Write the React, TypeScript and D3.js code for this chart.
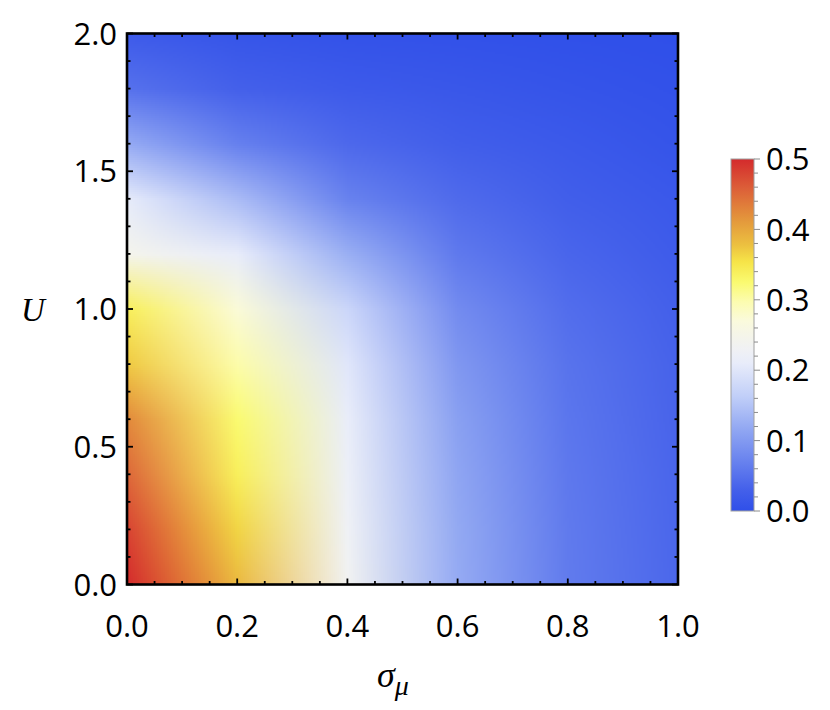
import React, { useEffect, useRef } from "react";
import * as d3 from "d3";

// ---- data ----
const sigmaValues = [0, 0.2, 0.4, 0.6, 0.8, 1.0];
const uValues = [0, 0.2, 0.4, 0.6, 0.8, 1.0, 1.2, 1.4, 1.6, 1.8, 2.0];
// rows: U = 0 .. 2 ; columns: sigma = 0, 0.2, ..., 1
const row00 = [0.5, 0.385, 0.235, 0.12, 0.062, 0.038];
const row02 = [0.48, 0.365, 0.228, 0.118, 0.061, 0.037];
const row04 = [0.452, 0.34, 0.22, 0.114, 0.059, 0.036];
const row06 = [0.425, 0.325, 0.212, 0.107, 0.056, 0.034];
const row08 = [0.372, 0.3, 0.2, 0.097, 0.052, 0.032];
const row10 = [0.34, 0.273, 0.175, 0.082, 0.046, 0.029];
const row12 = [0.245, 0.21, 0.125, 0.06, 0.036, 0.022];
const row14 = [0.208, 0.14, 0.07, 0.042, 0.026, 0.015];
const row16 = [0.12, 0.068, 0.04, 0.026, 0.017, 0.009];
const row18 = [0.05, 0.03, 0.02, 0.014, 0.009, 0.004];
const row20 = [0.02, 0.01, 0.006, 0.004, 0.002, 0.0];
const zRows = [row00, row02, row04, row06, row08, row10, row12, row14, row16, row18, row20];

const xTickLabels = ["0.0", "0.2", "0.4", "0.6", "0.8", "1.0"];
const yTickLabels = ["0.0", "0.5", "1.0", "1.5", "2.0"];
const barTickLabels = ["0.0", "0.1", "0.2", "0.3", "0.4", "0.5"];

// colour map (TemperatureMap-like), value -> colour
const colorStopValues = [0, 0.03, 0.068, 0.115, 0.162, 0.21, 0.23, 0.255, 0.27, 0.297, 0.325, 0.354, 0.378, 0.411, 0.459, 0.5];
const colorStopColors = ["#2f4fe9", "#4460ea", "#6680ee", "#90a6f2", "#c0cef8", "#e8ecfa", "#f0f1f4", "#f6f6e6", "#fafadc", "#fcfcb0", "#fafa70", "#f6e448", "#ecc040", "#e49a3c", "#dc5e38", "#d42a2c"];

const W = 830;
const H = 710;
const PX0 = 127, PX1 = 678, PY0 = 584.5, PY1 = 33.5;
const BX0 = 731, BX1 = 754, BY0 = 511, BY1 = 159;

export default function App() {
  const ref = useRef<SVGGElement>(null);

  const x = d3.scaleLinear().domain([0, 1]).range([PX0, PX1]);
  const y = d3.scaleLinear().domain([0, 2]).range([PY0, PY1]);
  const cbar = d3.scaleLinear().domain([0, 0.5]).range([BY0, BY1]);
  const color = d3.scaleLinear<string>().domain(colorStopValues).range(colorStopColors).interpolate(d3.interpolateRgb).clamp(true);

  useEffect(() => {
    const g = d3.select(ref.current);
    g.selectAll("*").remove();
    // colours at the sample nodes, blended linearly between nodes
    const nodeCols = zRows.map((row) => row.map((v) => d3.rgb(color(v))));
    const fxScale = d3.scaleLinear().domain(sigmaValues).range(d3.range(sigmaValues.length)).clamp(true);
    const fyScale = d3.scaleLinear().domain(uValues).range(d3.range(uValues.length)).clamp(true);
    const nx = sigmaValues.length, ny = uValues.length;
    const step = 2;
    const cells: { px: number; py: number; c: string }[] = [];
    for (let py = PY1; py < PY0; py += step) {
      for (let px = PX0; px < PX1; px += step) {
        const fx = fxScale(x.invert(Math.min(px + step / 2, PX1)));
        const fy = fyScale(y.invert(Math.min(py + step / 2, PY0)));
        const ix = Math.min(nx - 2, Math.floor(fx));
        const iy = Math.min(ny - 2, Math.floor(fy));
        const tx = fx - ix, ty = fy - iy;
        const c00 = nodeCols[iy][ix], c10 = nodeCols[iy][ix + 1];
        const c01 = nodeCols[iy + 1][ix], c11 = nodeCols[iy + 1][ix + 1];
        const mix = (k: "r" | "g" | "b") =>
          (c00[k] * (1 - tx) + c10[k] * tx) * (1 - ty) + (c01[k] * (1 - tx) + c11[k] * tx) * ty;
        cells.push({ px, py, c: d3.rgb(mix("r"), mix("g"), mix("b")).formatHex() });
      }
    }
    g.selectAll("rect")
      .data(cells)
      .join("rect")
      .attr("x", (d) => d.px)
      .attr("y", (d) => d.py)
      .attr("width", (d) => Math.min(step + 0.5, PX1 - d.px))
      .attr("height", (d) => Math.min(step + 0.5, PY0 - d.py))
      .attr("fill", (d) => d.c)
      .attr("shape-rendering", "crispEdges");
  }, []);

  const xMajor = d3.range(0, 1.0001, 0.2);
  const xMinor = d3.range(0, 1.0001, 0.05).filter((v) => Math.abs(v / 0.2 - Math.round(v / 0.2)) > 1e-6);
  const yMajor = d3.range(0, 2.0001, 0.5);
  const yMinor = d3.range(0, 2.0001, 0.1).filter((v) => Math.abs(v / 0.5 - Math.round(v / 0.5)) > 1e-6);
  const bMajor = d3.range(0, 0.5001, 0.1);
  const bMinor = d3.range(0, 0.5001, 0.02).filter((v) => Math.abs(v / 0.1 - Math.round(v / 0.1)) > 1e-6);

  const font = "'Open Sans', 'Noto Sans', sans-serif";
  const tickW = 1.8;
  const majL = 6, minL = 3.5;

  return (
    <svg width={W} height={H} style={{ position: "absolute", left: 0, top: 0, background: "#fff" }}>
      <defs>
        <linearGradient id="cbarGrad" x1="0" y1="1" x2="0" y2="0">
          {colorStopValues.map((v, i) => (
            <stop key={i} offset={`${(v / 0.5) * 100}%`} stopColor={colorStopColors[i]} />
          ))}
        </linearGradient>
      </defs>
      <g ref={ref} />
      {/* ticks */}
      <g stroke="#000" strokeWidth={tickW}>
        {xMajor.map((v, i) => (
          <g key={"xM" + i}>
            <line x1={x(v)} x2={x(v)} y1={PY0} y2={PY0 - majL} />
            <line x1={x(v)} x2={x(v)} y1={PY1} y2={PY1 + majL} />
          </g>
        ))}
        {xMinor.map((v, i) => (
          <g key={"xm" + i}>
            <line x1={x(v)} x2={x(v)} y1={PY0} y2={PY0 - minL} />
            <line x1={x(v)} x2={x(v)} y1={PY1} y2={PY1 + minL} />
          </g>
        ))}
        {yMajor.map((v, i) => (
          <g key={"yM" + i}>
            <line x1={PX0} x2={PX0 + majL} y1={y(v)} y2={y(v)} />
            <line x1={PX1} x2={PX1 - majL} y1={y(v)} y2={y(v)} />
          </g>
        ))}
        {yMinor.map((v, i) => (
          <g key={"ym" + i}>
            <line x1={PX0} x2={PX0 + minL} y1={y(v)} y2={y(v)} />
            <line x1={PX1} x2={PX1 - minL} y1={y(v)} y2={y(v)} />
          </g>
        ))}
      </g>
      <rect x={PX0} y={PY1} width={PX1 - PX0} height={PY0 - PY1} fill="none" stroke="#000" strokeWidth={2.6} />
      {/* tick labels */}
      <g fontFamily={font} fontSize={31} fill="#000">
        {xMajor.map((v, i) => (
          <text key={"xl" + i} x={x(v)} y={637} textAnchor="middle">{xTickLabels[i]}</text>
        ))}
        {yMajor.map((v, i) => (
          <text key={"yl" + i} x={117} y={y(v)} dy="0.36em" textAnchor="end">{yTickLabels[i]}</text>
        ))}
      </g>
      {/* axis labels */}
      <text x={33} y={321} textAnchor="middle" fontFamily="'Liberation Serif', 'DejaVu Serif', serif" fontStyle="italic" fontSize={33}>U</text>
      <text x={377} y={687} fontFamily="'Liberation Serif', 'DejaVu Serif', serif" fontStyle="italic" fontSize={36}>
        σ<tspan fontSize={28} dy={8}>μ</tspan>
      </text>
      {/* colour bar */}
      <rect x={BX0} y={BY1} width={BX1 - BX0} height={BY0 - BY1} fill="url(#cbarGrad)" stroke="#a0a0a0" strokeWidth={1} />
      <g stroke="#8c8c8c" strokeWidth={1}>
        {bMajor.map((v, i) => (
          <line key={"bM" + i} x1={BX1} x2={BX1 + 6} y1={cbar(v)} y2={cbar(v)} />
        ))}
        {bMinor.map((v, i) => (
          <line key={"bm" + i} x1={BX1} x2={BX1 + 4} y1={cbar(v)} y2={cbar(v)} />
        ))}
      </g>
      <g fontFamily={font} fontSize={31} fill="#000">
        {bMajor.map((v, i) => (
          <text key={"bl" + i} x={766} y={cbar(v)} dy="0.36em">{barTickLabels[i]}</text>
        ))}
      </g>
    </svg>
  );
}
